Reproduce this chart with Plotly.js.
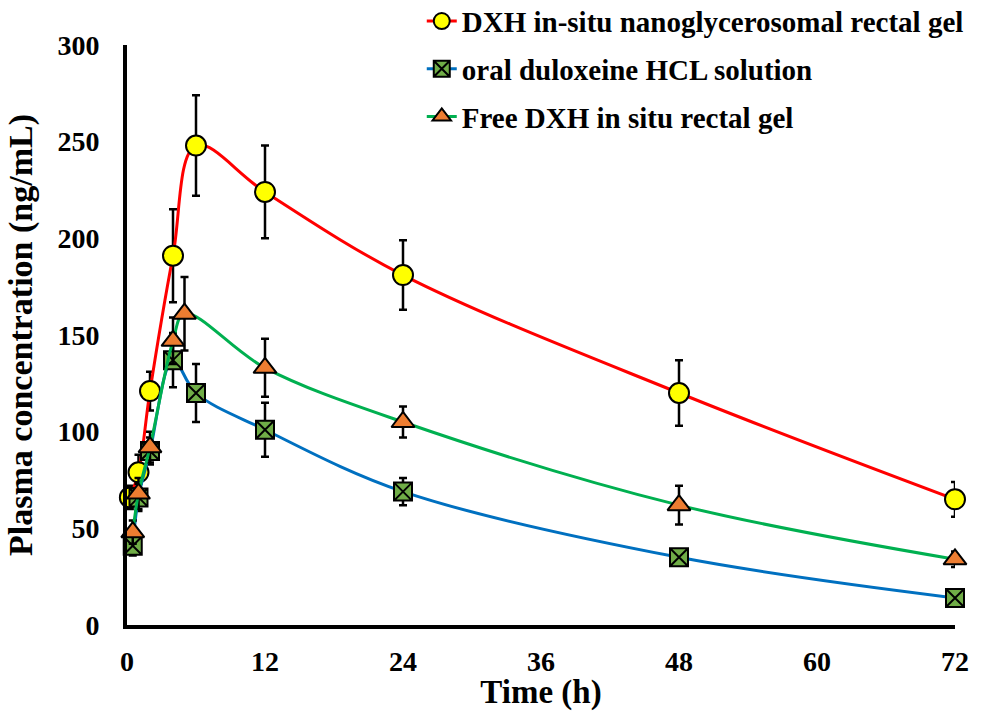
<!DOCTYPE html>
<html>
<head>
<meta charset="utf-8">
<script src="https://cdn.plot.ly/plotly-3.0.1.min.js"></script>
<style>html,body{margin:0;padding:0;background:#fff;}#chart{width:981px;height:711px;}</style>
</head>
<body>
<div id="chart"></div>
<script>
// Series names
var nameNano = "DXH in-situ nanoglycerosomal rectal gel";
var nameOral = "oral duloxeine HCL solution";
var nameFree = "Free DXH in situ rectal gel";

// Time points (h)
var timeNano = [0.25, 1, 2, 4, 6, 12, 24, 48, 72];
var timeOral = [0.5, 1, 2, 4, 6, 12, 24, 48, 72];
var timeFree = [0.5, 1, 2, 4, 5, 12, 24, 48, 72];

// Plasma concentration (ng/mL)
var concNano = [66, 79, 121, 191, 248, 224, 181, 120, 65];
var concOral = [41, 66, 90, 137, 120, 101, 69, 35, 14];
var concFree = [48, 68, 92, 147, 161, 133, 105, 62, 34];

// Error bars (SD)
var errNano = [6, 9, 10, 24, 26, 24, 18, 17, 9];
var errOral = [5, 7, 7, 14, 15, 14, 7, 3, 2];
var errFree = [6, 8, 8, 12, 19, 15, 8, 10, 4];

// Axis ticks
var xTicks = [0, 12, 24, 36, 48, 60, 72];
var yTicks = [0, 50, 100, 150, 200, 250, 300];

var serif = "Liberation Serif, Times New Roman, serif";

function errCfg(arr) {
  return {type: "data", array: arr, visible: true, color: "#000", thickness: 2.5, width: 4};
}

var traces = [
  {
    x: timeNano, y: concNano, name: nameNano, legendgroup: "a",
    mode: "lines+markers", type: "scatter", cliponaxis: false,
    line: {color: "#FF0000", width: 3, shape: "spline", smoothing: 1},
    marker: {symbol: "circle", size: 20, color: "#FFFF00", line: {color: "#000", width: 2}},
    error_y: errCfg(errNano)
  },
  {
    x: timeOral, y: concOral, name: nameOral, legendgroup: "b",
    mode: "lines+markers", type: "scatter", cliponaxis: false,
    line: {color: "#0070C0", width: 3, shape: "spline", smoothing: 1},
    marker: {symbol: "square-x", size: 18, color: "#70AD47", line: {color: "#000", width: 2}},
    error_y: errCfg(errOral)
  },
  {
    x: timeFree, y: concFree, name: nameFree, legendgroup: "c",
    mode: "lines+markers", type: "scatter", cliponaxis: false,
    line: {color: "#00B050", width: 3, shape: "spline", smoothing: 1},
    marker: {symbol: "triangle-up", size: 20, color: "#ED7D31", line: {color: "#000", width: 2}},
    error_y: errCfg(errFree)
  }
];

var layout = {
  width: 981, height: 711,
  paper_bgcolor: "#fff", plot_bgcolor: "#fff",
  margin: {l: 127, r: 26, t: 45, b: 86, autoexpand: false},
  showlegend: true,
  legend: {
    x: 0.356, y: 1.085, xanchor: "left", yanchor: "top",
    font: {family: serif, size: 29, color: "#000", weight: 700},
    tracegroupgap: 7, bgcolor: "rgba(0,0,0,0)", itemwidth: 30
  },
  xaxis: {
    range: [0, 72], tickvals: xTicks, ticktext: xTicks.map(String),
    showline: true, linecolor: "#000", linewidth: 4, showgrid: false, zeroline: false,
    ticks: "", ticklabelstandoff: 8,
    tickfont: {family: serif, size: 28, color: "#000", weight: 700},
    title: {text: "Time (h)", font: {family: serif, size: 33, color: "#000", weight: 700}, standoff: 1}
  },
  yaxis: {
    range: [0, 300], tickvals: yTicks, ticktext: yTicks.map(String),
    showline: true, linecolor: "#000", linewidth: 4, showgrid: false, zeroline: false,
    ticks: "", ticklabelstandoff: 18,
    tickfont: {family: serif, size: 28, color: "#000", weight: 700},
    title: {text: "Plasma concentration (ng/mL)", font: {family: serif, size: 34, color: "#000", weight: 700}, standoff: 16}
  }
};

Plotly.newPlot("chart", traces, layout, {displayModeBar: false, staticPlot: true});
</script>
</body>
</html>
